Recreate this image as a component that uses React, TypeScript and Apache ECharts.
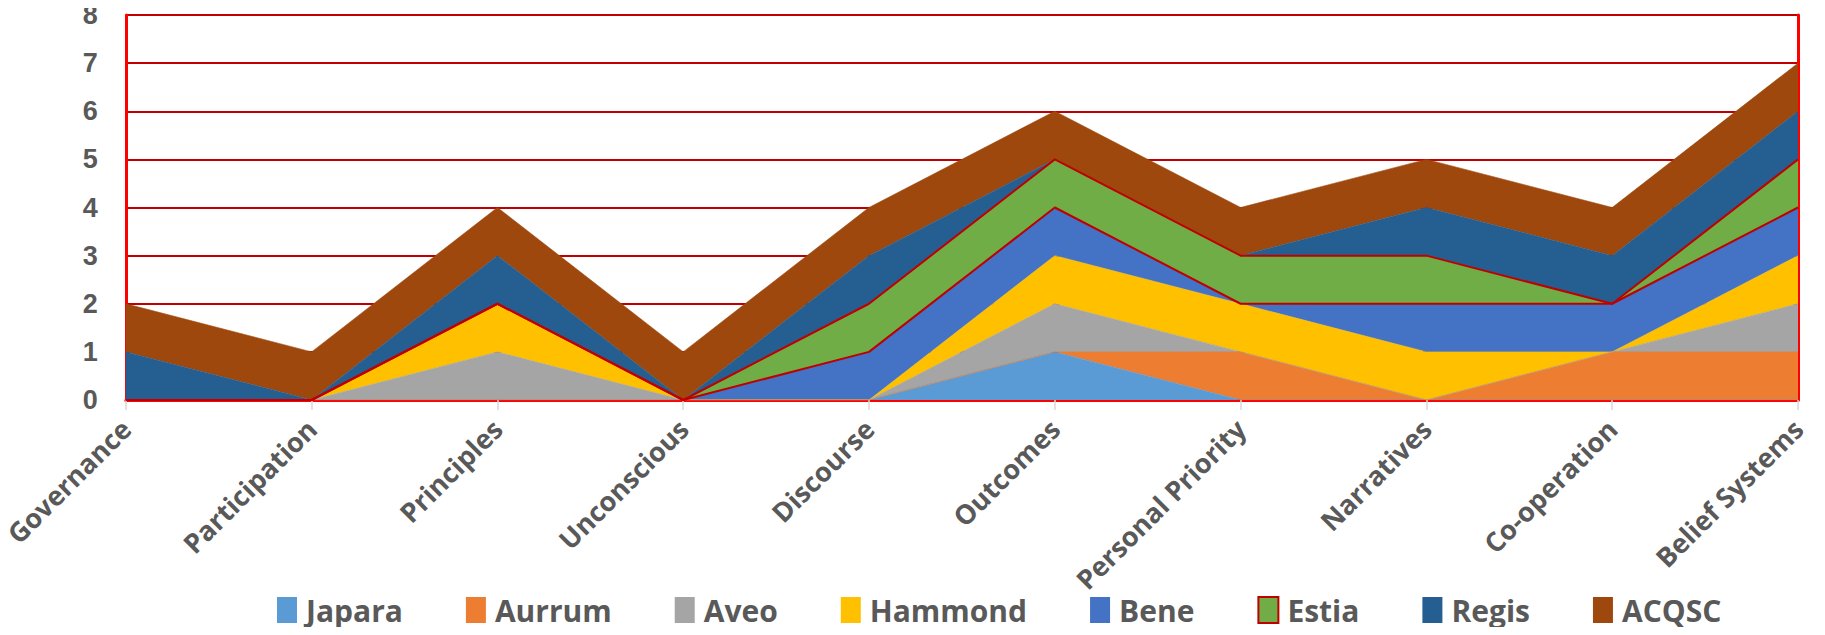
import React, { useEffect, useRef } from "react";
import * as echarts from "echarts";

const categories = [
  "Governance",
  "Participation",
  "Principles",
  "Unconscious",
  "Discourse",
  "Outcomes",
  "Personal Priority",
  "Narratives",
  "Co-operation",
  "Belief Systems",
];

const japara = [0, 0, 0, 0, 0, 1, 0, 0, 0, 0];
const aurrum = [0, 0, 0, 0, 0, 0, 1, 0, 1, 1];
const aveo = [0, 0, 1, 0, 0, 1, 0, 0, 0, 1];
const hammond = [0, 0, 1, 0, 0, 1, 1, 1, 0, 1];
const bene = [0, 0, 0, 0, 1, 1, 0, 1, 1, 1];
const estia = [0, 0, 0, 0, 1, 1, 1, 1, 0, 1];
const regis = [1, 0, 1, 0, 1, 0, 0, 1, 1, 1];
const acqsc = [1, 1, 1, 1, 1, 1, 1, 1, 1, 1];

const yTicks = [0, 1, 2, 3, 4, 5, 6, 7, 8];

const seriesDefs = [
  { name: "Japara", data: japara, color: "#5B9BD5" },
  { name: "Aurrum", data: aurrum, color: "#ED7D31" },
  { name: "Aveo", data: aveo, color: "#A5A5A5" },
  { name: "Hammond", data: hammond, color: "#FFC000" },
  { name: "Bene", data: bene, color: "#4472C4" },
  { name: "Estia", data: estia, color: "#70AD47" },
  { name: "Regis", data: regis, color: "#255E91" },
  { name: "ACQSC", data: acqsc, color: "#9E480E" },
];

const FONT = "'Open Sans', 'Liberation Sans', sans-serif";
const YFONT = "'Liberation Sans', Arial, sans-serif";
const TEXT = "#595959";

export default function App() {
  const ref = useRef<HTMLDivElement>(null);

  useEffect(() => {
    if (!ref.current) return;
    const chart = echarts.init(ref.current, null, { renderer: "svg" });

    // cumulative tops for the red outline of Estia (bottom = Bene top, top = Estia top)
    const cumUpTo = (n: number) =>
      categories.map((_, i) => seriesDefs.slice(0, n).reduce((s, d) => s + d.data[i], 0));
    const beneTop = cumUpTo(5);
    const estiaTop = cumUpTo(6);

    const series: any[] = seriesDefs.map((d) => ({
      name: d.name,
      type: "line",
      stack: "total",
      data: d.data,
      showSymbol: false,
      symbol: "none",
      color: d.color,
      itemStyle: { color: d.color },
      lineStyle: { width: 0.6, color: d.color },
      areaStyle: { color: d.color, opacity: 1 },
      z: 2,
    }));

    [beneTop, estiaTop].forEach((arr, k) => {
      series.push({
        name: k === 0 ? "edge-low" : "edge-high",
        type: "line",
        data: arr,
        showSymbol: false,
        symbol: "none",
        silent: true,
        lineStyle: { width: 2, color: "#C00000" },
        z: 5,
      });
    });

    chart.setOption({
      animation: false,
      backgroundColor: "#FFFFFF",
      textStyle: { fontFamily: FONT },
      grid: { left: 124, right: 27, top: 15, bottom: 235, containLabel: false },
      legend: {
        data: seriesDefs.map((d) =>
          d.name === "Estia"
            ? { name: d.name, itemStyle: { color: d.color, borderColor: "#C00000", borderWidth: 2 } }
            : { name: d.name, itemStyle: { color: d.color } }
        ),
        left: 272,
        top: 590,
        icon: "rect",
        itemWidth: 20,
        itemHeight: 26,
        itemGap: 63,
        lineStyle: { width: 0 },
        textStyle: {
          fontFamily: FONT,
          fontSize: 30,
          fontWeight: "bold",
          color: TEXT,
          padding: [0, 0, 0, 4],
        },
        selectedMode: false,
      },
      xAxis: [
        {
          type: "category",
          data: categories,
          boundaryGap: false,
          axisLine: { show: true, lineStyle: { color: "#E87575", width: 1.5 } },
          axisTick: { show: true, length: 10, lineStyle: { color: "#D9D9D9", width: 1.5 } },
          axisLabel: {
            rotate: 45,
            margin: 24,
            fontFamily: FONT,
            fontSize: 27,
            fontWeight: "bold",
            color: TEXT,
            interval: 0,
          },
          splitLine: { show: false },
        },
        {
          type: "category",
          data: categories,
          position: "top",
          boundaryGap: false,
          axisLine: { show: true, lineStyle: { color: "#FF0000", width: 3 } },
          axisTick: { show: false },
          axisLabel: { show: false },
          splitLine: { show: false },
        },
      ],
      yAxis: [
        {
          type: "value",
          min: yTicks[0],
          max: yTicks[yTicks.length - 1],
          interval: 1,
          axisLine: { show: true, lineStyle: { color: "#FF0000", width: 3 } },
          axisTick: { show: false },
          axisLabel: {
            margin: 28,
            fontFamily: YFONT,
            fontSize: 27,
            lineHeight: 24,
            fontWeight: "bold",
            color: TEXT,
          },
          splitLine: { show: true, lineStyle: { color: "#C00000", width: 2 } },
        },
        {
          type: "value",
          position: "right",
          min: yTicks[0],
          max: yTicks[yTicks.length - 1],
          interval: 1,
          axisLine: { show: true, lineStyle: { color: "#FF0000", width: 3 } },
          axisTick: { show: false },
          axisLabel: { show: false },
          splitLine: { show: false },
        },
      ],
      series,
    });

    return () => chart.dispose();
  }, []);

  return <div ref={ref} style={{ width: 1825, height: 635, margin: -8 }} />;
}
